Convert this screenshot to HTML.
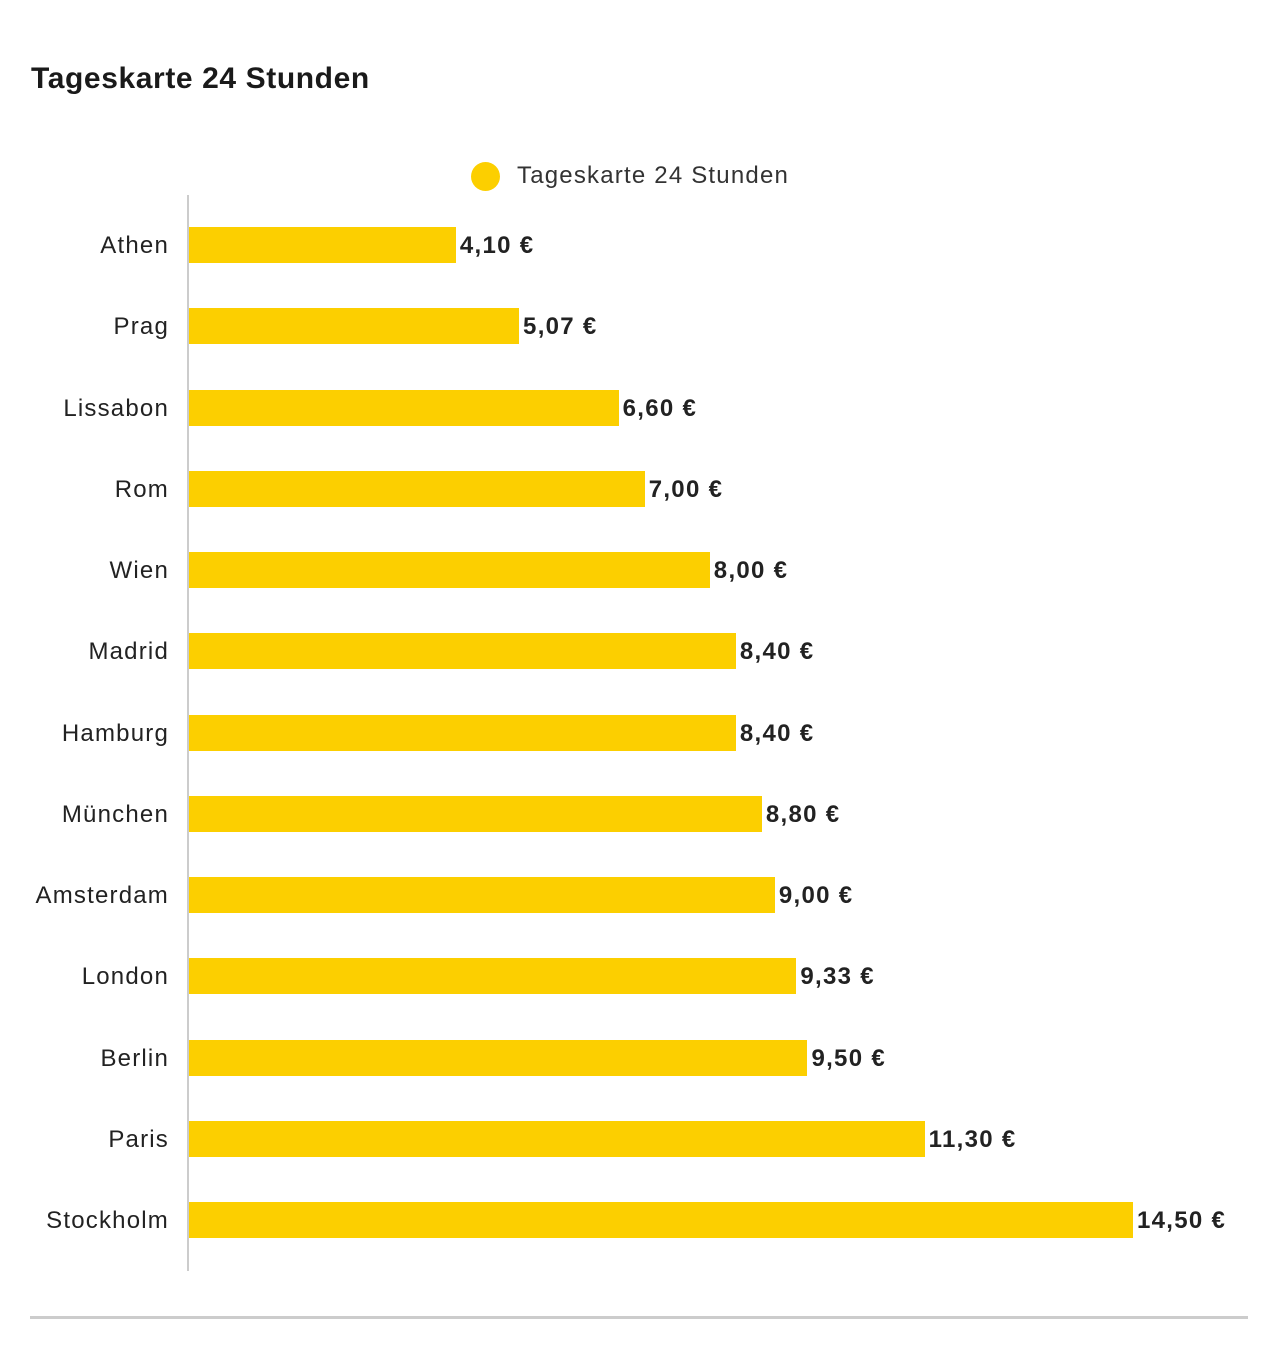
<!DOCTYPE html>
<html><head><meta charset="utf-8"><style>
body{margin:0;background:#fff;width:1280px;height:1370px;position:relative;font-family:"Liberation Sans",sans-serif;color:#222}
.t{position:absolute;left:31px;top:62px;font-size:30px;font-weight:bold;color:#1a1a1a;letter-spacing:0.6px}
.lg{position:absolute;left:471px;top:162px;width:29px;height:29px;border-radius:50%;background:#fccf00}
.lt{position:absolute;left:517px;top:162px;font-size:24px;color:#333;letter-spacing:1.2px}
.ax{position:absolute;left:187px;top:195px;width:2px;height:1076px;background:#ccc}
.rule{position:absolute;left:30px;top:1316px;width:1218px;height:3px;background:#ccc}
.l{position:absolute;right:1111px;font-size:24px;color:#222;text-align:right;white-space:nowrap;letter-spacing:1.2px}
.b{position:absolute;left:189px;height:36px;background:#fccf00}
.v{position:absolute;font-size:24px;font-weight:bold;color:#222;white-space:nowrap;letter-spacing:1.3px}
</style></head><body>
<div class="t">Tageskarte 24 Stunden</div>
<div class="lg"></div><div class="lt">Tageskarte 24 Stunden</div>
<div class="ax"></div>
<div id="c"></div>
<div class="rule"></div>
<script>
var d=[["Athen",4.10,"4,10 €"],["Prag",5.07,"5,07 €"],["Lissabon",6.60,"6,60 €"],["Rom",7.00,"7,00 €"],["Wien",8.00,"8,00 €"],["Madrid",8.40,"8,40 €"],["Hamburg",8.40,"8,40 €"],["München",8.80,"8,80 €"],["Amsterdam",9.00,"9,00 €"],["London",9.33,"9,33 €"],["Berlin",9.50,"9,50 €"],["Paris",11.30,"11,30 €"],["Stockholm",14.50,"14,50 €"]];
var h="";d.forEach(function(r,i){var cy=245+i*81.25,w=r[1]*65.1;
h+='<div class="l" style="top:'+(cy-13)+'px">'+r[0]+'</div><div class="b" style="top:'+(cy-18)+'px;width:'+w+'px"></div><div class="v" style="top:'+(cy-13)+'px;left:'+(189+w+4)+'px">'+r[2]+'</div>';});
document.getElementById("c").innerHTML=h;
</script>
</body></html>
